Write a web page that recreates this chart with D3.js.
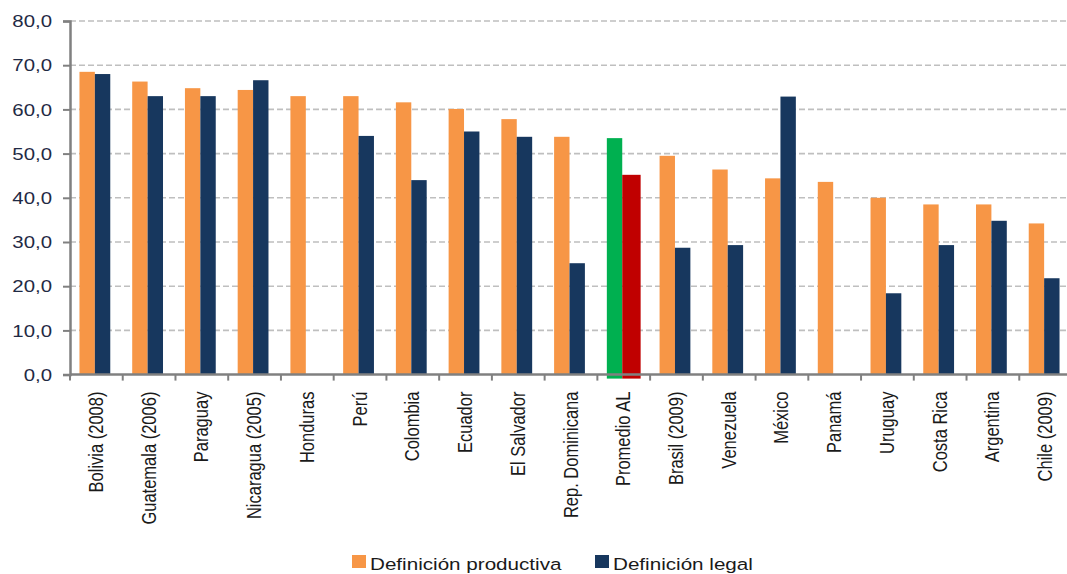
<!DOCTYPE html>
<html><head><meta charset="utf-8">
<script src="https://cdn.jsdelivr.net/npm/d3@7"></script>
<style>body{margin:0;background:#fff;} svg{display:block;font-family:"Liberation Sans",Arial,sans-serif;}</style>
</head><body><svg id="c" width="1067" height="574"></svg>
<script>
const categories = ["Bolivia (2008)","Guatemala (2006)","Paraguay","Nicaragua (2005)","Honduras","Perú","Colombia","Ecuador","El Salvador","Rep. Dominicana","Promedio AL","Brasil (2009)","Venezuela","México","Panamá","Uruguay","Costa Rica","Argentina","Chile (2009)"];
const productiva = [68.5,66.3,64.8,64.4,63.0,63.0,61.6,60.1,57.8,53.8,53.5,49.5,46.4,44.4,43.6,40.0,38.5,38.5,34.2];
const legal = [68.0,63.0,63.0,66.6,null,54.0,44.0,55.0,53.8,25.2,45.2,28.7,29.3,62.9,null,18.4,29.3,34.8,21.8];
const yTicks = [0,10,20,30,40,50,60,70,80];
const seriesNames = ["Definición productiva","Definición legal"];
const colors = {prod:"#F79646", legal:"#17375E", avgProd:"#00B050", avgLegal:"#C00000"};
const highlight = "Promedio AL";

const svg = d3.select("#c");
const x0 = 70, x1 = 1072, yTop = 21, yBot = 374.6, W = 1067;
const x = d3.scaleBand().domain(categories).range([x0,x1]).paddingInner(0).paddingOuter(0);
const y = d3.scaleLinear().domain([0,80]).range([yBot,yTop]);
const bw = 15.4, sx = 1.2;

// gridlines
svg.append("g").selectAll("line").data(yTicks.filter(d=>d>0)).join("line")
  .attr("x1",x0).attr("x2",W).attr("y1",d=>y(d)).attr("y2",d=>y(d))
  .attr("stroke","#BFBFBF").attr("stroke-width",1.6).attr("stroke-dasharray","6,3");

// bars
const g = svg.append("g");
categories.forEach((c,i)=>{
  const cx = x(c) + x.bandwidth()/2 - 1.5;
  const isAvg = c===highlight;
  const ext = isAvg ? 4 : 0;
  g.append("rect").attr("x",cx-bw).attr("width",bw)
    .attr("y",y(productiva[i])).attr("height",y(0)-y(productiva[i])+ext)
    .attr("fill",isAvg?colors.avgProd:colors.prod);
  if(legal[i]!=null){
    const w = isAvg? bw+3 : bw;
    g.append("rect").attr("x",cx).attr("width",w)
      .attr("y",y(legal[i])).attr("height",y(0)-y(legal[i])+ext)
      .attr("fill",isAvg?colors.avgLegal:colors.legal);
  }
});

// y axis
const ya = svg.append("g").attr("transform",`translate(${x0},0)`)
  .call(d3.axisLeft(y).tickValues(yTicks).tickSize(7).tickFormat(""));
ya.select(".domain").attr("stroke","#808080").attr("stroke-width",2.5);
ya.selectAll(".tick line").attr("stroke","#808080").attr("stroke-width",2);
svg.append("g").selectAll("text").data(yTicks).join("text")
  .attr("transform",d=>`translate(52,${y(d)}) scale(${sx},1)`)
  .attr("text-anchor","end").attr("dy","0.36em").attr("font-size",17).attr("fill","#1f2a44")
  .text(d=>d3.format(".1f")(d).replace(".",","));

// x axis
const xa = svg.append("g").attr("transform",`translate(0,${yBot})`);
xa.append("line").attr("x1",x0).attr("x2",W).attr("stroke","#808080").attr("stroke-width",2.5);
const bounds = categories.map(c=>x(c));
xa.selectAll("line.tk").data(bounds).join("line").attr("class","tk")
  .attr("x1",d=>d).attr("x2",d=>d).attr("y1",0).attr("y2",6)
  .attr("stroke","#808080").attr("stroke-width",2);
xa.selectAll("text").data(categories).join("text")
  .attr("transform",d=>`translate(${x(d)+x.bandwidth()/2+6.5},17) rotate(-90) scale(1,${sx})`)
  .attr("text-anchor","end").attr("font-size",16.5).attr("fill","#1a1a1a")
  .text(d=>d);

// legend
const lg = svg.append("g");
const items = [{n:seriesNames[0],c:colors.prod,x:352},{n:seriesNames[1],c:colors.legal,x:595}];
items.forEach(it=>{
  lg.append("rect").attr("x",it.x).attr("y",555).attr("width",14).attr("height",13).attr("fill",it.c);
  lg.append("text").attr("transform",`translate(${it.x+18},570) scale(${sx},1)`)
    .attr("font-size",17.2).attr("fill","#1a1a1a").text(it.n);
});
</script></body></html>
